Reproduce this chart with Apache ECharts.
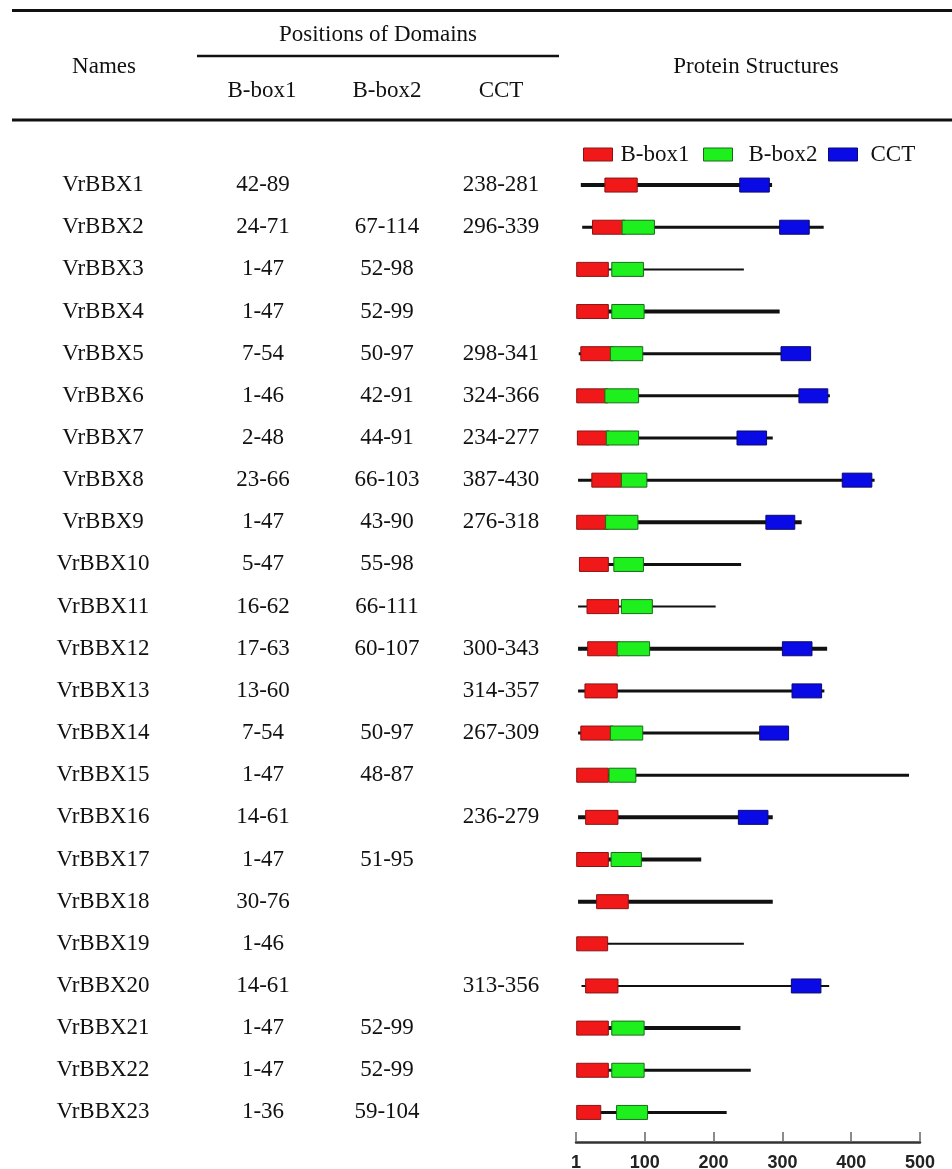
<!DOCTYPE html>
<html>
<head>
<meta charset="utf-8">
<script src="https://cdn.jsdelivr.net/npm/echarts@6/dist/echarts.min.js"></script>
<style>
  html, body { margin: 0; padding: 0; background: #fff; }
  #chart { width: 952px; height: 1169px; }
</style>
</head>
<body>
<div id="chart"></div>
<script>
// table data
const names = ['VrBBX1', 'VrBBX2', 'VrBBX3', 'VrBBX4', 'VrBBX5', 'VrBBX6', 'VrBBX7', 'VrBBX8',
  'VrBBX9', 'VrBBX10', 'VrBBX11', 'VrBBX12', 'VrBBX13', 'VrBBX14', 'VrBBX15', 'VrBBX16',
  'VrBBX17', 'VrBBX18', 'VrBBX19', 'VrBBX20', 'VrBBX21', 'VrBBX22', 'VrBBX23'];
const bbox1 = ['42-89', '24-71', '1-47', '1-47', '7-54', '1-46', '2-48', '23-66', '1-47', '5-47',
  '16-62', '17-63', '13-60', '7-54', '1-47', '14-61', '1-47', '30-76', '1-46', '14-61',
  '1-47', '1-47', '1-36'];
const bbox2 = ['', '67-114', '52-98', '52-99', '50-97', '42-91', '44-91', '66-103', '43-90', '55-98',
  '66-111', '60-107', '', '50-97', '48-87', '', '51-95', '', '', '',
  '52-99', '52-99', '59-104'];
const cct = ['238-281', '296-339', '', '', '298-341', '324-366', '234-277', '387-430', '276-318', '',
  '', '300-343', '314-357', '267-309', '', '236-279', '', '', '', '313-356',
  '', '', ''];
// protein backbone (start, end) in aa
const lineStarts = [7, 9, 5, 8, 4, 7, 4, 3, 6, 5, 3, 3, 3, 3, 4, 3, 6, 3, 9, 8, 5, 5, 8];
const proteinLengths = [285, 360, 244, 296, 340, 369, 286, 434, 328, 240, 203, 365, 361, 307,
  484, 286, 182, 286, 244, 368, 239, 254, 219];
const axisTicks = [0, 100, 200, 300, 400, 500];

// styles
const SERIF = '"Liberation Serif", "Times New Roman", serif';
const TXT = '#111';
const heavyRows = ['VrBBX1', 'VrBBX4', 'VrBBX9', 'VrBBX12', 'VrBBX16', 'VrBBX17', 'VrBBX18', 'VrBBX21'];
const thinRows = ['VrBBX3', 'VrBBX11', 'VrBBX19', 'VrBBX20'];
const domainStyle = {
  'B-box1': { fill: '#f01818', stroke: '#8a1414' },
  'B-box2': { fill: '#1ef01e', stroke: '#186a18' },
  'CCT': { fill: '#0a0ae6', stroke: '#0a0a6e' }
};

function toRanges(list) {
  const out = [];
  list.forEach((s, i) => {
    if (!s) return;
    const p = s.split('-');
    out.push([i, +p[0], +p[1]]);
  });
  return out;
}

function backboneItem(params, api) {
  const a = api.coord([api.value(1), api.value(0)]);
  const b = api.coord([api.value(2), api.value(0)]);
  const name = names[api.value(0)];
  const w = heavyRows.includes(name) ? 4 : (thinRows.includes(name) ? 2 : 3);
  return {
    type: 'rect',
    shape: { x: a[0], y: a[1] - w / 2, width: b[0] - a[0], height: w },
    style: { fill: '#111' }
  };
}

function boxItem(key) {
  return function (params, api) {
    const a = api.coord([api.value(1), api.value(0)]);
    const b = api.coord([api.value(2), api.value(0)]);
    const h = 14;
    return {
      type: 'rect',
      shape: { x: a[0], y: a[1] - h / 2, width: b[0] - a[0], height: h },
      style: { fill: domainStyle[key].fill, stroke: domainStyle[key].stroke, lineWidth: 1 }
    };
  };
}

function columnAxis(list, margin) {
  return {
    type: 'category', inverse: true, data: names, gridIndex: 0, position: 'left',
    axisLine: { show: false }, axisTick: { show: false }, splitLine: { show: false },
    axisLabel: {
      interval: 0, margin: margin, align: 'center', hideOverlap: false,
      fontFamily: SERIF, fontSize: 23, color: TXT,
      formatter: (v, i) => list[i]
    }
  };
}

function legendFor(name, left, pad) {
  return {
    left: left, top: 143, padding: 0, selectedMode: false,
    itemWidth: 29, itemHeight: 13,
    data: [{ name: name, icon: 'rect', itemStyle: { color: domainStyle[name].fill, borderColor: domainStyle[name].stroke, borderWidth: 1 } }],
    textStyle: { fontFamily: SERIF, fontSize: 23, color: TXT, padding: [0, 0, 0, pad] }
  };
}

function headText(text, x, y) {
  return {
    type: 'text', x: x, y: y,
    style: { text: text, font: '23px ' + SERIF, fill: TXT, textAlign: 'center', textVerticalAlign: 'middle', align: 'center', verticalAlign: 'middle' }
  };
}

function rule(x1, x2, y, w) {
  return { type: 'line', shape: { x1: x1, y1: y, x2: x2, y2: y }, style: { stroke: '#111', lineWidth: w } };
}

const chart = echarts.init(document.getElementById('chart'), null, { renderer: 'canvas' });

chart.setOption({
  backgroundColor: '#fff',
  animation: false,
  grid: { left: 576, width: 344, top: 164, height: 969.5, containLabel: false, outerBoundsMode: 'none' },
  legend: [legendFor('B-box1', 583, 3), legendFor('B-box2', 703, 11), legendFor('CCT', 828, 8)],
  xAxis: {
    type: 'value', min: axisTicks[0], max: axisTicks[axisTicks.length - 1], interval: 100,
    offset: 8.5,
    axisLine: { show: true, lineStyle: { color: '#333', width: 2.5 } },
    axisTick: { show: true, inside: true, length: 10, lineStyle: { color: '#666', width: 1.5 } },
    splitLine: { show: false },
    axisLabel: {
      margin: 12, fontFamily: '"Liberation Sans", Arial, sans-serif', fontWeight: 'bold',
      fontSize: 18, color: '#222',
      formatter: v => (v === 0 ? '1' : String(v))
    }
  },
  yAxis: [
    columnAxis(names, 473),
    columnAxis(bbox1, 313),
    columnAxis(bbox2, 189),
    columnAxis(cct, 75)
  ],
  series: [
    {
      type: 'custom', name: 'backbone', renderItem: backboneItem,
      encode: { x: [1, 2], y: 0 },
      data: names.map((n, i) => [i, lineStarts[i], proteinLengths[i]])
    },
    { type: 'custom', name: 'B-box1', renderItem: boxItem('B-box1'), encode: { x: [1, 2], y: 0 },
      itemStyle: { color: domainStyle['B-box1'].fill }, data: toRanges(bbox1) },
    { type: 'custom', name: 'B-box2', renderItem: boxItem('B-box2'), encode: { x: [1, 2], y: 0 },
      itemStyle: { color: domainStyle['B-box2'].fill }, data: toRanges(bbox2) },
    { type: 'custom', name: 'CCT', renderItem: boxItem('CCT'), encode: { x: [1, 2], y: 0 },
      itemStyle: { color: domainStyle['CCT'].fill }, data: toRanges(cct) }
  ],
  graphic: [
    rule(12, 952, 10.5, 3),
    rule(197, 559, 56, 2.5),
    rule(12, 952, 120, 3),
    headText('Positions of Domains', 378, 35),
    headText('Names', 104, 67),
    headText('Protein Structures', 756, 67),
    headText('B-box1', 262, 91),
    headText('B-box2', 387, 91),
    headText('CCT', 501, 91)
  ]
});
</script>
</body>
</html>
